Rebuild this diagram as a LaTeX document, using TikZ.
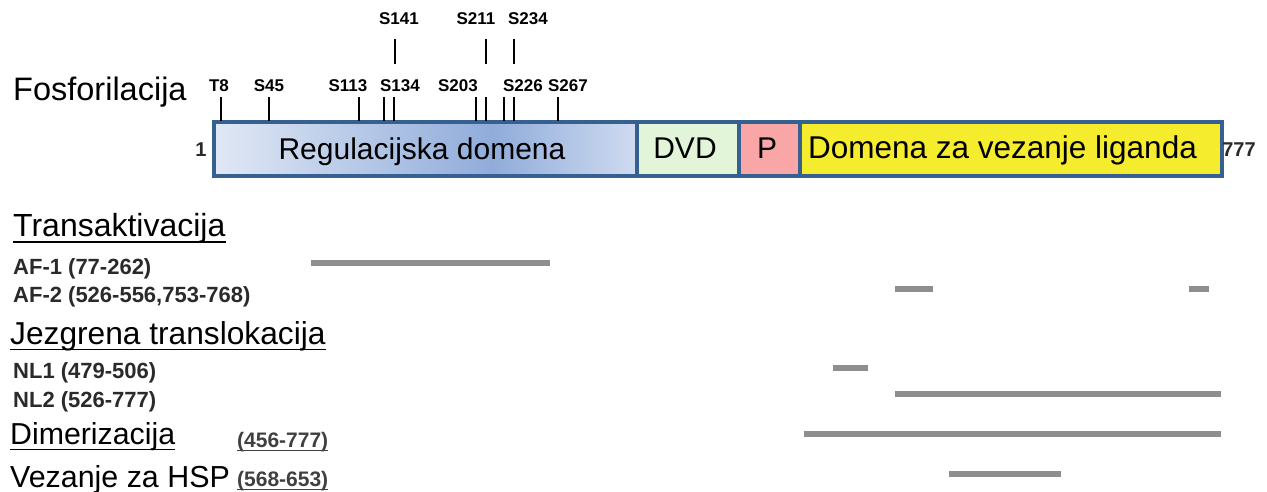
\documentclass[tikz,border=0pt]{standalone}
\usepackage{fontspec}
\setmainfont{Liberation Sans}
\definecolor{bordc}{HTML}{35608F}
\definecolor{regl}{HTML}{E0E8F5}
\definecolor{regm}{HTML}{90ACDA}
\definecolor{regr}{HTML}{CFDBF0}
\definecolor{dvdc}{HTML}{E2F5D8}
\definecolor{pc}{HTML}{F8A6A6}
\definecolor{ligc}{HTML}{F6EC2E}
\definecolor{barc}{HTML}{8E8E8E}
\definecolor{lblc}{HTML}{2A2A2A}
\definecolor{rngc}{HTML}{404040}
\pgfdeclarehorizontalshading{regshade}{100bp}{color(0bp)=(regl); color(25bp)=(regl); color(58bp)=(regm); color(75bp)=(regr); color(100bp)=(regr)}
\begin{document}
\begin{tikzpicture}[x=1pt,y=-1pt,
  hdr/.style={font=\fontsize{#1}{36}\selectfont, inner sep=0pt, anchor=base west},
  hdr/.default=31.8,
  lbl/.style={font=\fontsize{22}{26}\selectfont\bfseries, text=lblc, inner sep=0pt, anchor=base west},
  rng/.style={font=\fontsize{21}{24}\selectfont\bfseries, text=rngc, inner sep=0pt, anchor=base west},
  tlbl/.style={font=\fontsize{17}{20}\selectfont\bfseries, inner sep=0pt, anchor=base},
  endlbl/.style={font=\fontsize{20}{24}\selectfont\bfseries, text=lblc, inner sep=0pt},
  tick/.style={line width=2.5pt},
  bar/.style={line width=6.5pt, draw=barc},
  uline/.style={line width=1.8pt},
  rline/.style={line width=1.4pt, draw=rngc},
  dom/.style={draw=bordc, line width=3.5pt, minimum height=54pt, inner sep=0pt, anchor=west},
  dtext/.style={font=\fontsize{30}{34}\selectfont, inner sep=0pt, anchor=base}
]
\useasboundingbox (0,0) rectangle (1267,492);

% domain boxes
\node[dom, shading=regshade, minimum width=423pt] (reg) at (212,149) {};
\node[dom, fill=dvdc, minimum width=102pt] (dvd) at (635,149) {};
\node[dom, fill=pc, minimum width=61pt] (pdom) at (737,149) {};
\node[dom, fill=ligc, minimum width=422pt] (lig) at (798,149) {};

\node[dtext] (regt) at (422,159.3) {Regulacijska domena};
\node[dtext] (dvdt) at (685,159) {DVD};
\node[dtext] (ptxt) at (767,159) {P};
\node[dtext, font=\fontsize{31.5}{34}\selectfont] (ligt) at (1002.5,158.5) {Domena za vezanje liganda};

\node[endlbl] (one) at (201,150) {1};
\node[endlbl] (last) at (1239,150) {777};

% phosphorylation ticks
\foreach \x in {221,269,359,384,394,476,486,504,514,558}
  \draw[tick] (\x,97) -- (\x,121);
\foreach \x in {395,486,514}
  \draw[tick] (\x,39) -- (\x,64);

\node[tlbl] (t8) at (219,91.5) {T8};
\node[tlbl] (s45) at (269,91.5) {S45};
\node[tlbl] (s113) at (348,91.5) {S113};
\node[tlbl] (s134) at (400,91.5) {S134};
\node[tlbl] (s203) at (458,91.5) {S203};
\node[tlbl] (s226) at (523,91.5) {S226};
\node[tlbl] (s267) at (568,91.5) {S267};
\node[tlbl] (s141) at (399,25) {S141};
\node[tlbl] (s211) at (476,25) {S211};
\node[tlbl] (s234) at (528,25) {S234};

% headings
\node[hdr=32.5] (fos) at (13,100.5) {Fosforilacija};
\node[hdr=32] (tra) at (13,236.5) {Transaktivacija};
\draw[uline] ([yshift=-5.5pt]tra.base west) -- ([yshift=-5.5pt]tra.base east);
\node[hdr=31.7] (jez) at (10,344.5) {Jezgrena translokacija};
\draw[uline] ([yshift=-5pt]jez.base west) -- ([yshift=-5pt]jez.base east);
\node[hdr=30.3] (dim) at (10,444.5) {Dimerizacija};
\draw[uline] ([yshift=-5pt]dim.base west) -- ([yshift=-5pt]dim.base east);
\node[hdr=30.4] (hsp) at (10,487.5) {Vezanje za HSP};

% sub labels
\node[lbl] (af1) at (13,274) {AF-1 (77-262)};
\node[lbl] (af2) at (13,302) {AF-2 (526-556,753-768)};
\node[lbl] (nl1) at (13,378) {NL1 (479-506)};
\node[lbl] (nl2) at (13,407) {NL2 (526-777)};
\node[rng] (rdim) at (237,447.5) {(456-777)};
\draw[rline] ([yshift=-3pt]rdim.base west) -- ([yshift=-3pt]rdim.base east);
\node[rng] (rhsp) at (237,486.5) {(568-653)};
\draw[rline] ([yshift=-3pt]rhsp.base west) -- ([yshift=-3pt]rhsp.base east);

% region bars
\draw[bar] (311,263) -- (550,263);
\draw[bar] (895,289) -- (933,289);
\draw[bar] (1189,289) -- (1209,289);
\draw[bar] (833,368) -- (868,368);
\draw[bar] (895,394) -- (1221,394);
\draw[bar] (804,434) -- (1221,434);
\draw[bar] (949,474) -- (1061,474);
\end{tikzpicture}
\end{document}
